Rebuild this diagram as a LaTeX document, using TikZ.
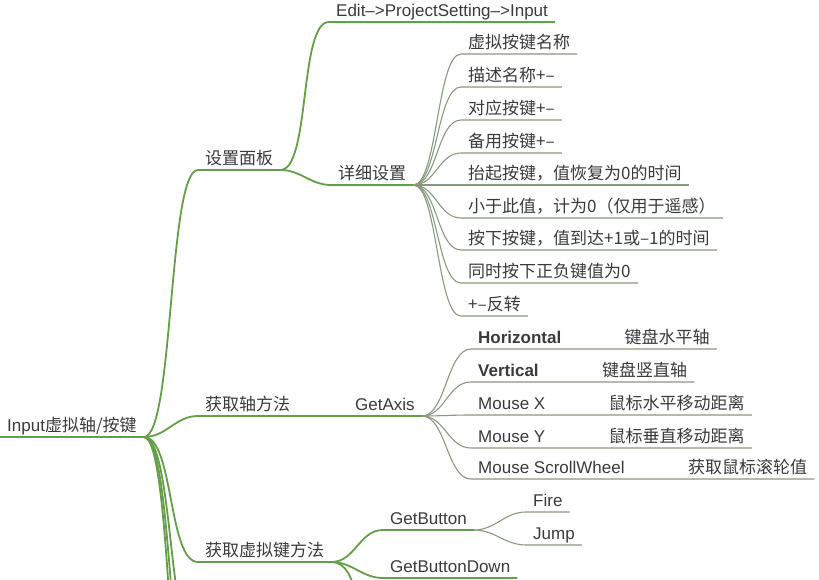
\documentclass[tikz,border=0pt]{standalone}
\usepackage{fontspec}
\setmainfont{Noto Sans CJK SC}
\newfontfamily\latinfont{Liberation Sans}
\usepackage{tikz}
\usetikzlibrary{positioning}
\definecolor{branchgreen}{RGB}{100,158,72}
\definecolor{leafline}{RGB}{138,152,128}
\definecolor{inktext}{RGB}{58,58,58}

\begin{document}
\begin{tikzpicture}[
    x=1pt, y=-1pt,
    node distance=0pt and 49pt,
    topic/.style={anchor=south west, inner xsep=7pt, inner ysep=1.5pt, text height=13pt, text depth=3.5pt, text=inktext, font=\fontsize{17}{20}\selectfont},
    latin/.style={topic, font=\fontsize{17}{20}\selectfont\latinfont},
    latinbold/.style={topic, font=\fontsize{17}{20}\selectfont\latinfont\bfseries},
    branch/.style={draw=branchgreen, line width=1.8pt, out=0, in=180, max distance=30pt},
    leaf/.style={draw=leafline, line width=1.1pt, out=0, in=180, max distance=24pt}
]
    \useasboundingbox (0,0) rectangle (819,580);
    \clip (0,0) rectangle (819,580);

    \node [topic] (root) at (0,437) {{\latinfont Input}虚拟轴/按键};

    \node [topic] (panel) at (198,170) {设置面板};
    \node [latin] (edit) at (329,22) {Edit–>ProjectSetting–>Input};
    \node [topic] (detail) at (331,185) {详细设置};
    \node [topic] (d1) at (461,54) {虚拟按键名称};
    \node [topic] (d2) at (461,87) {描述名称+–};
    \node [topic] (d3) at (461,120) {对应按键+–};
    \node [topic] (d4) at (461,153) {备用按键+–};
    \node [topic] (d5) at (461,185) {抬起按键，值恢复为0的时间};
    \node [topic] (d6) at (461,218) {小于此值，计为0（仅用于遥感）};
    \node [topic] (d7) at (461,250) {按下按键，值到达+1或–1的时间};
    \node [topic] (d8) at (461,283) {同时按下正负键值为0};
    \node [topic] (d9) at (461,316) {+–反转};

    \node [topic] (axisway) at (198,416) {获取轴方法};
    \node [latin] (getaxis) at (348,416) {GetAxis};
    \node [latinbold] (horiz) at (471,349) {Horizontal};
    \node [topic, right=of horiz] (horizinfo) {键盘水平轴};
    \node [latinbold] (vert) at (471,382) {Vertical};
    \node [topic, right=of vert] (vertinfo) {键盘竖直轴};
    \node [latin] (mousex) at (471,415) {Mouse X};
    \node [topic, right=of mousex] (mousexinfo) {鼠标水平移动距离};
    \node [latin] (mousey) at (471,448) {Mouse Y};
    \node [topic, right=of mousey] (mouseyinfo) {鼠标垂直移动距离};
    \node [latin] (wheel) at (471,479) {Mouse ScrollWheel};
    \node [topic, right=of wheel] (wheelinfo) {获取鼠标滚轮值};

    \node [topic] (buttonway) at (198,562) {获取虚拟键方法};
    \node [latin] (getbutton) at (383,530) {GetButton};
    \node [latin] (fire) at (526,512) {Fire};
    \node [latin] (jump) at (526,545) {Jump};
    \node [latin] (getbuttondown) at (383,578) {GetButtonDown};

    \coordinate (more1) at (198,650);
    \coordinate (more2) at (198,730);
    \coordinate (more3) at (198,810);
    \coordinate (more4) at (383,630);

    \draw [branch] (root.south west) -- (root.south east);
    \draw [branch] (root.south east) to (panel.south west) -- (panel.south east);
    \draw [branch] (root.south east) to (axisway.south west) -- (getaxis.south east);
    \draw [branch] (root.south east) to (buttonway.south west) -- (buttonway.south east);
    \draw [branch] (root.south east) to (more1);
    \draw [branch] (root.south east) to (more2);
    \draw [branch] (root.south east) to (more3);

    \draw [branch] (panel.south east) to (edit.south west) -- (edit.south east);
    \draw [branch] (panel.south east) to (detail.south west) -- (detail.south east);
    \draw [leaf] (detail.south east) to (d1.south west) -- (d1.south east);
    \draw [leaf] (detail.south east) to (d2.south west) -- (d2.south east);
    \draw [leaf] (detail.south east) to (d3.south west) -- (d3.south east);
    \draw [leaf] (detail.south east) to (d4.south west) -- (d4.south east);
    \draw [leaf] (detail.south east) to (d5.south west) -- (d5.south east);
    \draw [leaf] (detail.south east) to (d6.south west) -- (d6.south east);
    \draw [leaf] (detail.south east) to (d7.south west) -- (d7.south east);
    \draw [leaf] (detail.south east) to (d8.south west) -- (d8.south east);
    \draw [leaf] (detail.south east) to (d9.south west) -- (d9.south east);

    \draw [leaf] (getaxis.south east) to (horiz.south west) -- (horizinfo.south east);
    \draw [leaf] (getaxis.south east) to (vert.south west) -- (vertinfo.south east);
    \draw [leaf] (getaxis.south east) to (mousex.south west) -- (mousexinfo.south east);
    \draw [leaf] (getaxis.south east) to (mousey.south west) -- (mouseyinfo.south east);
    \draw [leaf] (getaxis.south east) to (wheel.south west) -- (wheelinfo.south east);

    \draw [branch] (buttonway.south east) to (getbutton.south west) -- (getbutton.south east);
    \draw [branch] (buttonway.south east) to (getbuttondown.south west) -- (getbuttondown.south east);
    \draw [branch] (buttonway.south east) to (more4);
    \draw [leaf] (getbutton.south east) to (fire.south west) -- (fire.south east);
    \draw [leaf] (getbutton.south east) to (jump.south west) -- (jump.south east);
\end{tikzpicture}
\end{document}
